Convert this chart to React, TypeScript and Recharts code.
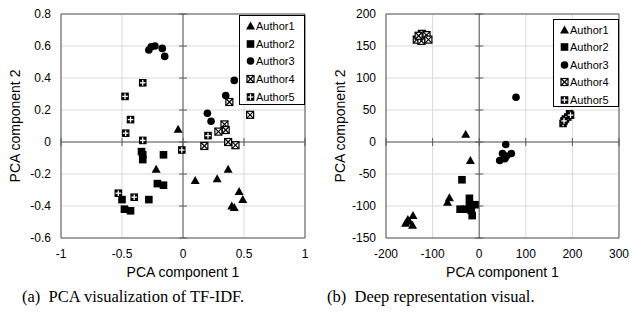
import React from 'react'
import {
  ScatterChart,
  Scatter,
  XAxis,
  YAxis,
  CartesianGrid,
  ReferenceLine,
  ReferenceArea,
  ReferenceDot,
  Legend,
} from 'recharts'

// (a) TF-IDF PCA
const tfidfAuthor1 = [
  { x: -0.04, y: 0.08 }, { x: -0.22, y: -0.17 }, { x: 0.1, y: -0.24 }, { x: 0.28, y: -0.23 },
  { x: 0.37, y: -0.17 }, { x: 0.46, y: -0.31 }, { x: 0.49, y: -0.36 }, { x: 0.4, y: -0.4 },
  { x: 0.42, y: -0.41 },
]
const tfidfAuthor2 = [
  { x: -0.34, y: -0.06 }, { x: -0.33, y: -0.08 }, { x: -0.33, y: -0.11 }, { x: -0.16, y: -0.08 },
  { x: -0.21, y: -0.26 }, { x: -0.16, y: -0.27 }, { x: -0.28, y: -0.36 }, { x: -0.5, y: -0.36 },
  { x: -0.48, y: -0.42 }, { x: -0.43, y: -0.43 },
]
const tfidfAuthor3 = [
  { x: -0.28, y: 0.575 }, { x: -0.26, y: 0.595 }, { x: -0.23, y: 0.6 }, { x: -0.17, y: 0.585 },
  { x: -0.15, y: 0.535 }, { x: 0.42, y: 0.385 }, { x: 0.35, y: 0.29 }, { x: 0.2, y: 0.18 },
  { x: 0.23, y: 0.13 },
]
const tfidfAuthor4 = [
  { x: 0.38, y: 0.25 }, { x: 0.55, y: 0.17 }, { x: 0.34, y: 0.11 }, { x: 0.35, y: 0.075 },
  { x: 0.29, y: 0.065 }, { x: 0.37, y: 0.0 }, { x: 0.43, y: -0.02 }, { x: 0.175, y: -0.025 },
]
const tfidfAuthor5 = [
  { x: -0.33, y: 0.37 }, { x: -0.475, y: 0.285 }, { x: -0.43, y: 0.14 }, { x: -0.47, y: 0.055 },
  { x: -0.33, y: 0.01 }, { x: -0.01, y: -0.05 }, { x: 0.205, y: 0.04 }, { x: -0.53, y: -0.32 },
  { x: -0.4, y: -0.345 },
]
const tfidfXTicks = [-1, -0.5, 0, 0.5, 1]
const tfidfYTicks = [-0.6, -0.4, -0.2, 0, 0.2, 0.4, 0.6, 0.8]

// (b) deep representation PCA
const deepAuthor1 = [
  { x: -29, y: 12 }, { x: -19, y: -29 }, { x: -64, y: -87 }, { x: -68, y: -94 },
  { x: -142, y: -115 }, { x: -153, y: -121 }, { x: -158, y: -127 }, { x: -143, y: -130 },
  { x: -150, y: -124 },
]
const deepAuthor2 = [
  { x: -37, y: -59 }, { x: -41, y: -105 }, { x: -21, y: -88 }, { x: -21, y: -99 },
  { x: -9, y: -98 }, { x: -15, y: -115 }, { x: -29, y: -105 }, { x: -17, y: -107 },
]
const deepAuthor3 = [
  { x: 79, y: 70 }, { x: 57, y: -4 }, { x: 44, y: -29 }, { x: 50, y: -18 },
  { x: 69, y: -18 }, { x: 55, y: -26 }, { x: 59, y: -22 },
]
const deepAuthor4 = [
  { x: -134, y: 160 }, { x: -123, y: 169 }, { x: -113, y: 167 }, { x: -124, y: 158 },
  { x: -109, y: 160 }, { x: -130, y: 166 },
]
const deepAuthor5 = [
  { x: 180, y: 29 }, { x: 185, y: 36 }, { x: 194, y: 44 }, { x: 190, y: 39 },
  { x: 182, y: 33 }, { x: 196, y: 42 },
]
const deepXTicks = [-200, -100, 0, 100, 200, 300]
const deepYTicks = [-150, -100, -50, 0, 50, 100, 150, 200]

const authorNames = ['Author1', 'Author2', 'Author3', 'Author4', 'Author5']

const AXIS_COLOR = '#595959'
const GRID_COLOR = '#d9d9d9'
const SANS = '"Liberation Sans", Arial, sans-serif'
const TICK = { fontSize: 12, fill: '#000', fontFamily: SANS }

// marker glyphs, drawn around (cx, cy)
const triangle = (cx: number, cy: number) => (
  <polygon points={`${cx},${cy - 4.5} ${cx + 4.5},${cy + 3.5} ${cx - 4.5},${cy + 3.5}`} fill="#000" />
)
const square = (cx: number, cy: number) => (
  <rect x={cx - 3.8} y={cy - 3.8} width={7.6} height={7.6} fill="#000" />
)
const circle = (cx: number, cy: number) => <circle cx={cx} cy={cy} r={3.8} fill="#000" />
const boxX = (cx: number, cy: number) => (
  <g>
    <rect x={cx - 3.5} y={cy - 3.5} width={7} height={7} fill="#fff" stroke="#000" strokeWidth={1.2} />
    <line x1={cx - 3.5} y1={cy - 3.5} x2={cx + 3.5} y2={cy + 3.5} stroke="#000" strokeWidth={1.2} />
    <line x1={cx + 3.5} y1={cy - 3.5} x2={cx - 3.5} y2={cy + 3.5} stroke="#000" strokeWidth={1.2} />
  </g>
)
const boxPlus = (cx: number, cy: number) => (
  <g>
    <rect x={cx - 3.8} y={cy - 3.8} width={7.6} height={7.6} fill="#000" />
    <line x1={cx} y1={cy - 2.8} x2={cx} y2={cy + 2.8} stroke="#fff" strokeWidth={1.3} />
    <line x1={cx - 2.8} y1={cy} x2={cx + 2.8} y2={cy} stroke="#fff" strokeWidth={1.3} />
  </g>
)
const glyphs = [triangle, square, circle, boxX, boxPlus]

function MarkerLegend({ width, height, rowHeight }: { width: number; height: number; rowHeight: number }) {
  return (
    <div
      style={{
        width,
        height,
        boxSizing: 'border-box',
        border: '1px solid #000',
        background: '#fff',
        paddingTop: 1,
        paddingLeft: 6,
        fontFamily: SANS,
        fontSize: 11,
        color: '#000',
      }}
    >
      {authorNames.map((name, i) => (
        <div key={name} style={{ height: rowHeight, display: 'flex', alignItems: 'center' }}>
          <svg width={9} height={10} style={{ marginRight: 1 }}>
            {glyphs[i](4.5, 5)}
          </svg>
          <span>{name}</span>
        </div>
      ))}
    </div>
  )
}

interface PanelProps {
  series: { x: number; y: number }[][]
  xTicks: number[]
  yTicks: number[]
  marginLeft: number
  yAxisWidth: number
  marginRight: number
  legendBox: { left: number; top: number; width: number; height: number; rowHeight: number }
}

function Panel({ series, xTicks, yTicks, marginLeft, yAxisWidth, marginRight, legendBox }: PanelProps) {
  const xDomain = [xTicks[0], xTicks[xTicks.length - 1]]
  const yDomain = [yTicks[0], yTicks[yTicks.length - 1]]
  return (
    <ScatterChart
      width={315}
      height={282}
      margin={{ top: 14, right: marginRight, left: marginLeft, bottom: 0 }}
    >
      <CartesianGrid stroke={GRID_COLOR} />
      <XAxis
        type="number"
        dataKey="x"
        domain={xDomain}
        ticks={xTicks}
        allowDataOverflow
        axisLine={false}
        tickLine={false}
        tickSize={0}
        tickMargin={11}
        tick={TICK}
        height={44}
        label={{
          value: 'PCA component 1',
          position: 'insideBottom',
          offset: 5,
          style: { fontSize: 14, fill: '#000', fontFamily: SANS },
        }}
      />
      <YAxis
        type="number"
        dataKey="y"
        domain={yDomain}
        ticks={yTicks}
        allowDataOverflow
        axisLine={false}
        tickLine={false}
        tickSize={0}
        tickMargin={10}
        tick={TICK}
        width={yAxisWidth}
        label={{
          value: 'PCA component 2',
          angle: -90,
          position: 'insideLeft',
          offset: 5,
          style: { fontSize: 14, fill: '#000', fontFamily: SANS, textAnchor: 'middle' },
        }}
      />
      <ReferenceArea
        x1={xDomain[0]}
        x2={xDomain[1]}
        y1={yDomain[0]}
        y2={yDomain[1]}
        fill="none"
        stroke={AXIS_COLOR}
        strokeWidth={1}
      />
      <ReferenceLine x={0} stroke={AXIS_COLOR} strokeWidth={1} />
      <ReferenceLine y={0} stroke={AXIS_COLOR} strokeWidth={1} />
      {xTicks.map((t) => (
        <ReferenceDot
          key={`xt${t}`}
          x={t}
          y={0}
          shape={(p: any) => (
            <line x1={p.cx} x2={p.cx} y1={p.cy - 4} y2={p.cy + 4} stroke={AXIS_COLOR} strokeWidth={1} />
          )}
        />
      ))}
      {yTicks.map((t) => (
        <ReferenceDot
          key={`yt${t}`}
          x={0}
          y={t}
          shape={(p: any) => (
            <line x1={p.cx - 4} x2={p.cx + 4} y1={p.cy} y2={p.cy} stroke={AXIS_COLOR} strokeWidth={1} />
          )}
        />
      ))}
      {series.map((data, i) => (
        <Scatter
          key={authorNames[i]}
          name={authorNames[i]}
          data={data}
          isAnimationActive={false}
          shape={(p: any) => glyphs[i](p.cx, p.cy)}
        />
      ))}
      <Legend
        layout="vertical"
        align="center"
        verticalAlign="middle"
        wrapperStyle={{
          left: legendBox.left,
          top: legendBox.top,
          right: 'auto',
          bottom: 'auto',
          width: legendBox.width,
          height: legendBox.height,
        }}
        content={() => (
          <MarkerLegend width={legendBox.width} height={legendBox.height} rowHeight={legendBox.rowHeight} />
        )}
      />
    </ScatterChart>
  )
}

const captionStyle: React.CSSProperties = {
  position: 'absolute',
  top: 287,
  fontFamily: '"Liberation Serif", "Times New Roman", serif',
  fontSize: 16.5,
  color: '#000',
  whiteSpace: 'pre',
}

export default function App() {
  return (
    <div style={{ position: 'absolute', left: 0, top: 0, width: 630, height: 318, background: '#fff' }}>
      <div style={{ position: 'absolute', left: 0, top: 0 }}>
        <Panel
          series={[tfidfAuthor1, tfidfAuthor2, tfidfAuthor3, tfidfAuthor4, tfidfAuthor5]}
          xTicks={tfidfXTicks}
          yTicks={tfidfYTicks}
          marginLeft={10}
          yAxisWidth={51}
          marginRight={10}
          legendBox={{ left: 239, top: 15, width: 66, height: 90, rowHeight: 17.7 }}
        />
      </div>
      <div style={{ position: 'absolute', left: 315, top: 0 }}>
        <Panel
          series={[deepAuthor1, deepAuthor2, deepAuthor3, deepAuthor4, deepAuthor5]}
          xTicks={deepXTicks}
          yTicks={deepYTicks}
          marginLeft={20}
          yAxisWidth={51}
          marginRight={11}
          legendBox={{ left: 238, top: 19, width: 66, height: 88, rowHeight: 17.5 }}
        />
      </div>
      <div style={{ ...captionStyle, left: 22 }}>{'(a)  PCA visualization of TF-IDF.'}</div>
      <div style={{ ...captionStyle, left: 327 }}>{'(b)  Deep representation visual.'}</div>
    </div>
  )
}
